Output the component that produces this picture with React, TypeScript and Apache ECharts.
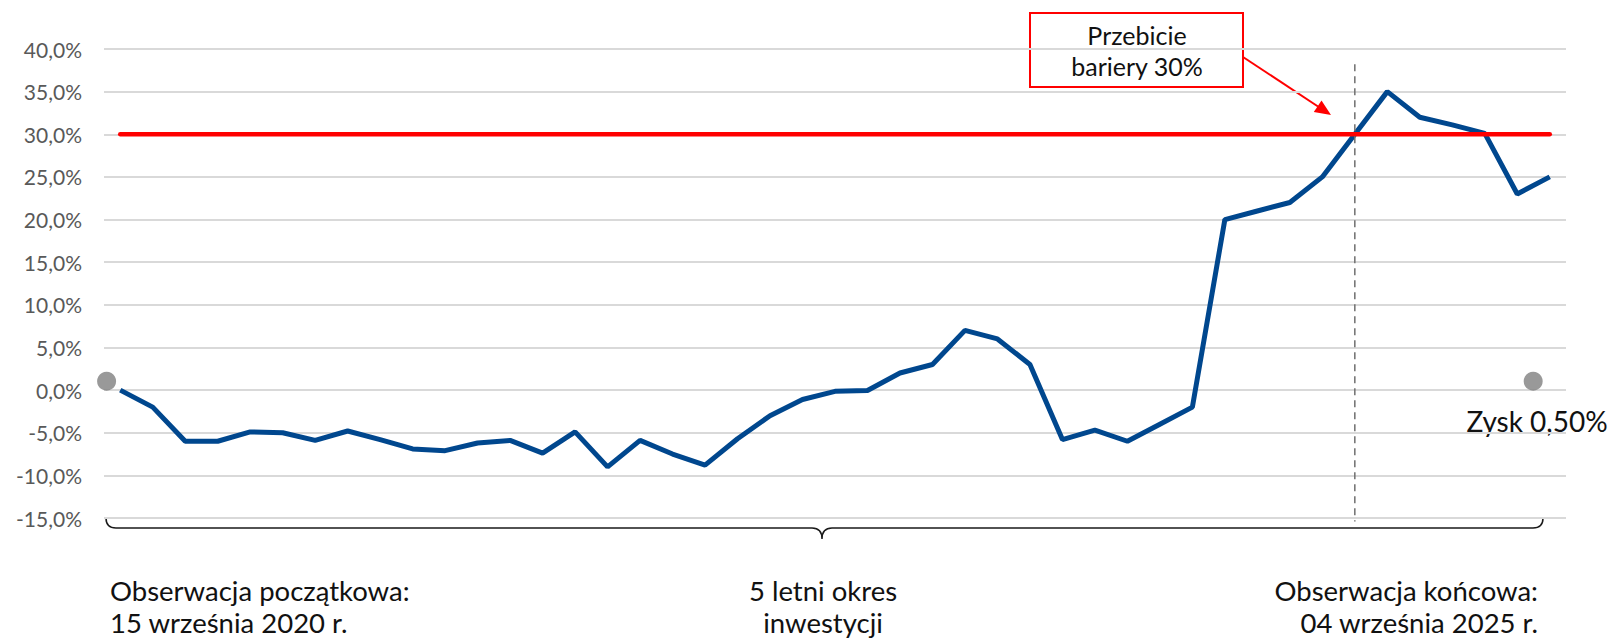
import React, { useEffect, useRef } from "react";
import * as echarts from "echarts";

// Observations (monthly-ish), performance in %
const performance: number[] = [
  0, -2, -6, -6, -4.9, -5, -5.9, -4.8, -5.8, -6.9, -7.1, -6.2, -5.9, -7.4, -4.9,
  -9, -5.9, -7.5, -8.8, -5.7, -3, -1.1, -0.15, -0.05, 2, 3, 7, 6, 3, -5.8, -4.7,
  -6, -4, -2, 20, 21, 22, 25, 30, 35, 32, 31.1, 30.1, 23, 25,
];
const barrierLevel = 30;
const startDot: [number, number] = [-0.42, 1.05];
const endDot: [number, number] = [43.49, 1.05];
const breachIndex = 38;
const breachLineRange: [number, number] = [38.2, -15.4];
const yTicks = { min: -15, max: 40, interval: 5 };
const zyskLabel = "Zysk 0,50%";
const annotationLines = ["Przebicie", "bariery 30%"];
const bottomLeft = ["Obserwacja początkowa:", "15 września 2020 r."];
const bottomMid = ["5 letni okres", "inwestycji"];
const bottomRight = ["Obserwacja końcowa:", "04 września 2025 r."];

const FONT = "Lato, 'Noto Sans', sans-serif";

const bracePath =
  "M106 518 Q106 528 116 528 L812 528 Q822 528 822 539 Q822 528 832 528 L1533 528 Q1543 528 1543 518";

let registered = false;

export default function App() {
  const ref = useRef<HTMLDivElement>(null);

  useEffect(() => {
    document.body.style.margin = "0";
    if (!registered) {
      echarts.graphic.registerShape("brace", echarts.graphic.extendPath(bracePath, {}) as any);
      registered = true;
    }
    const chart = echarts.init(ref.current!, undefined, { renderer: "svg" });

    const lineData = performance.map((v, i) => [i, v]);
    const textStyle = (t: string, x: number, y: number, align: string) => ({
      type: "text",
      x,
      y,
      style: {
        text: t,
        fontFamily: FONT,
        fontSize: 27.5,
        fill: "#111111",
        align,
        verticalAlign: "middle",
      },
    });

    chart.setOption({
      animation: false,
      grid: { left: 104, right: 46, top: 49, bottom: 121, containLabel: false },
      xAxis: {
        type: "value",
        min: -0.5,
        max: performance.length - 0.5,
        show: false,
      },
      yAxis: {
        type: "value",
        min: yTicks.min,
        max: yTicks.max,
        interval: yTicks.interval,
        axisLine: { show: false },
        axisTick: { show: false },
        axisLabel: {
          margin: 22,
          color: "#595959",
          fontFamily: FONT,
          fontSize: 21,
          formatter: (v: number) => v.toFixed(1).replace(".", ",") + "%",
        },
        splitLine: { lineStyle: { color: "#d9d9d9", width: 2 } },
      },
      series: [
        {
          type: "line",
          data: lineData,
          symbol: "none",
          lineStyle: { color: "#00478E", width: 5 },
          z: 2,
        },
        {
          type: "line",
          data: [
            [0, barrierLevel],
            [performance.length - 1, barrierLevel],
          ],
          symbol: "none",
          lineStyle: { color: "#ff0000", width: 4.5, cap: "round" },
          z: 3,
        },
        {
          type: "line",
          data: [
            [breachIndex, breachLineRange[0]],
            [breachIndex, breachLineRange[1]],
          ],
          symbol: "none",
          clip: false,
          lineStyle: { color: "#6f6f6f", width: 1.5, type: [7, 5] },
          z: 4,
        },
        {
          type: "scatter",
          data: [startDot, endDot],
          symbolSize: 19,
          itemStyle: { color: "#808080" },
          clip: false,
          z: 5,
        },
      ],
      graphic: [
        {
          type: "brace",
          x: 0,
          y: 0,
          style: { fill: "none", stroke: "#1a1a1a", lineWidth: 1.5 },
        },
        {
          type: "line",
          shape: { x1: 1243, y1: 57, x2: 1318, y2: 106.5 },
          style: { stroke: "#ff0000", lineWidth: 2 },
        },
        {
          type: "polygon",
          shape: {
            points: [
              [1331, 115],
              [1313.8, 112],
              [1321.5, 100.4],
            ],
          },
          style: { fill: "#ff0000" },
        },
        {
          type: "rect",
          shape: { x: 1030, y: 13, width: 213, height: 74 },
          style: { fill: "#ffffff", stroke: "#ff0000", lineWidth: 2 },
        },
        {
          type: "text",
          x: 1137,
          y: 35,
          style: {
            text: annotationLines[0],
            fontFamily: FONT,
            fontSize: 25,
            fill: "#111111",
            align: "center",
            verticalAlign: "middle",
          },
        },
        {
          type: "text",
          x: 1137,
          y: 66,
          style: {
            text: annotationLines[1],
            fontFamily: FONT,
            fontSize: 25,
            fill: "#111111",
            align: "center",
            verticalAlign: "middle",
          },
        },
        {
          type: "text",
          x: 1537,
          y: 421,
          style: {
            text: zyskLabel,
            fontFamily: FONT,
            fontSize: 28,
            fill: "#111111",
            align: "center",
            verticalAlign: "middle",
          },
        },
        textStyle(bottomLeft[0], 110, 590, "left"),
        textStyle(bottomLeft[1], 110, 622, "left"),
        textStyle(bottomMid[0], 823, 590, "center"),
        textStyle(bottomMid[1], 823, 622, "center"),
        textStyle(bottomRight[0], 1538, 590, "right"),
        textStyle(bottomRight[1], 1538, 622, "right"),
      ],
    });

    return () => chart.dispose();
  }, []);

  return <div ref={ref} style={{ width: 1612, height: 639 }} />;
}
